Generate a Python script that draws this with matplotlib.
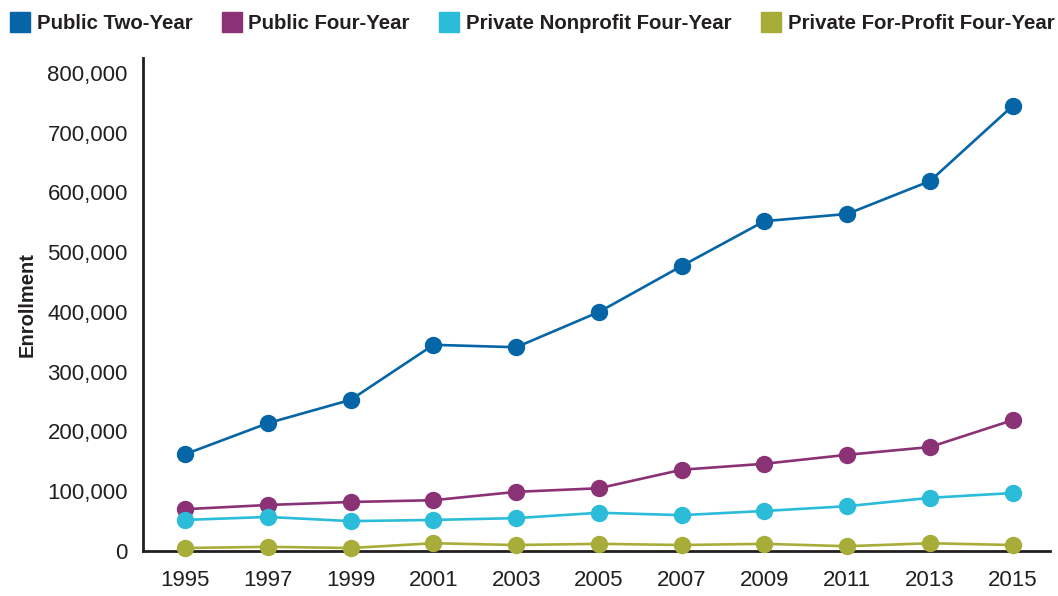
import matplotlib
matplotlib.use('Agg')
import matplotlib.pyplot as plt
from matplotlib.lines import Line2D
from matplotlib.ticker import FuncFormatter

# datos
years = [1995, 1997, 1999, 2001, 2003, 2005, 2007, 2009, 2011, 2013, 2015]
public_two = [162000, 214000, 253000, 345000, 341000, 400000, 477000, 552000, 564000, 619000, 745000]
public_four = [70000, 77000, 82000, 85000, 99000, 105000, 136000, 146000, 161000, 174000, 219000]
private_nonprofit = [52000, 57000, 50000, 52000, 55000, 64000, 60000, 67000, 75000, 89000, 97000]
private_forprofit = [5000, 7000, 5000, 13000, 10000, 12000, 10000, 12000, 8000, 13000, 10000]

names = ["Public Two-Year", "Public Four-Year", "Private Nonprofit Four-Year", "Private For-Profit Four-Year"]
colores = ["#0565a6", "#8a3275", "#2bbcd9", "#a8ad3a"]
series = [public_two, public_four, private_nonprofit, private_forprofit]

plt.rcParams['font.family'] = ['Liberation Sans', 'DejaVu Sans']

fig = plt.figure(figsize=(10.58, 5.96), dpi=100)
ax = fig.add_axes([0.1352, 0.0755, 0.8572, 0.8272])

for vals, c in zip(series, colores):
    ax.plot(years, vals, color=c, lw=1.9, marker='o', markersize=11.5,
            clip_on=False, zorder=3)

ax.set_xlim(1993.98, 2015.9)
ax.set_ylim(0, 825000)
ax.set_xticks(years)
ax.set_yticks(range(0, 800001, 100000))
ax.yaxis.set_major_formatter(FuncFormatter(lambda v, p: "{:,.0f}".format(v)))
ax.tick_params(axis='both', length=0, labelsize=16, colors='#231f20')
ax.tick_params(axis='y', pad=11)
ax.tick_params(axis='x', pad=14)

for s in ['top', 'right']:
    ax.spines[s].set_visible(False)
for s in ['left', 'bottom']:
    ax.spines[s].set_linewidth(2)
    ax.spines[s].set_color('#231f20')

ax.set_ylabel("Enrollment", fontsize=14.5, fontweight='bold', color='#231f20', labelpad=8)

handles = [Line2D([], [], marker='s', linestyle='none', markersize=14,
                  markerfacecolor=c, markeredgecolor=c) for c in colores]
fig.legend(handles, names, loc='upper left', bbox_to_anchor=(-0.004, 1.0), ncol=4,
           frameon=False, prop={'weight': 'bold', 'size': 14.7},
           handletextpad=0.35, columnspacing=1.45, handlelength=0.95,
           borderaxespad=0.3, labelcolor='#231f20')

fig.savefig("out.png", dpi=100)
